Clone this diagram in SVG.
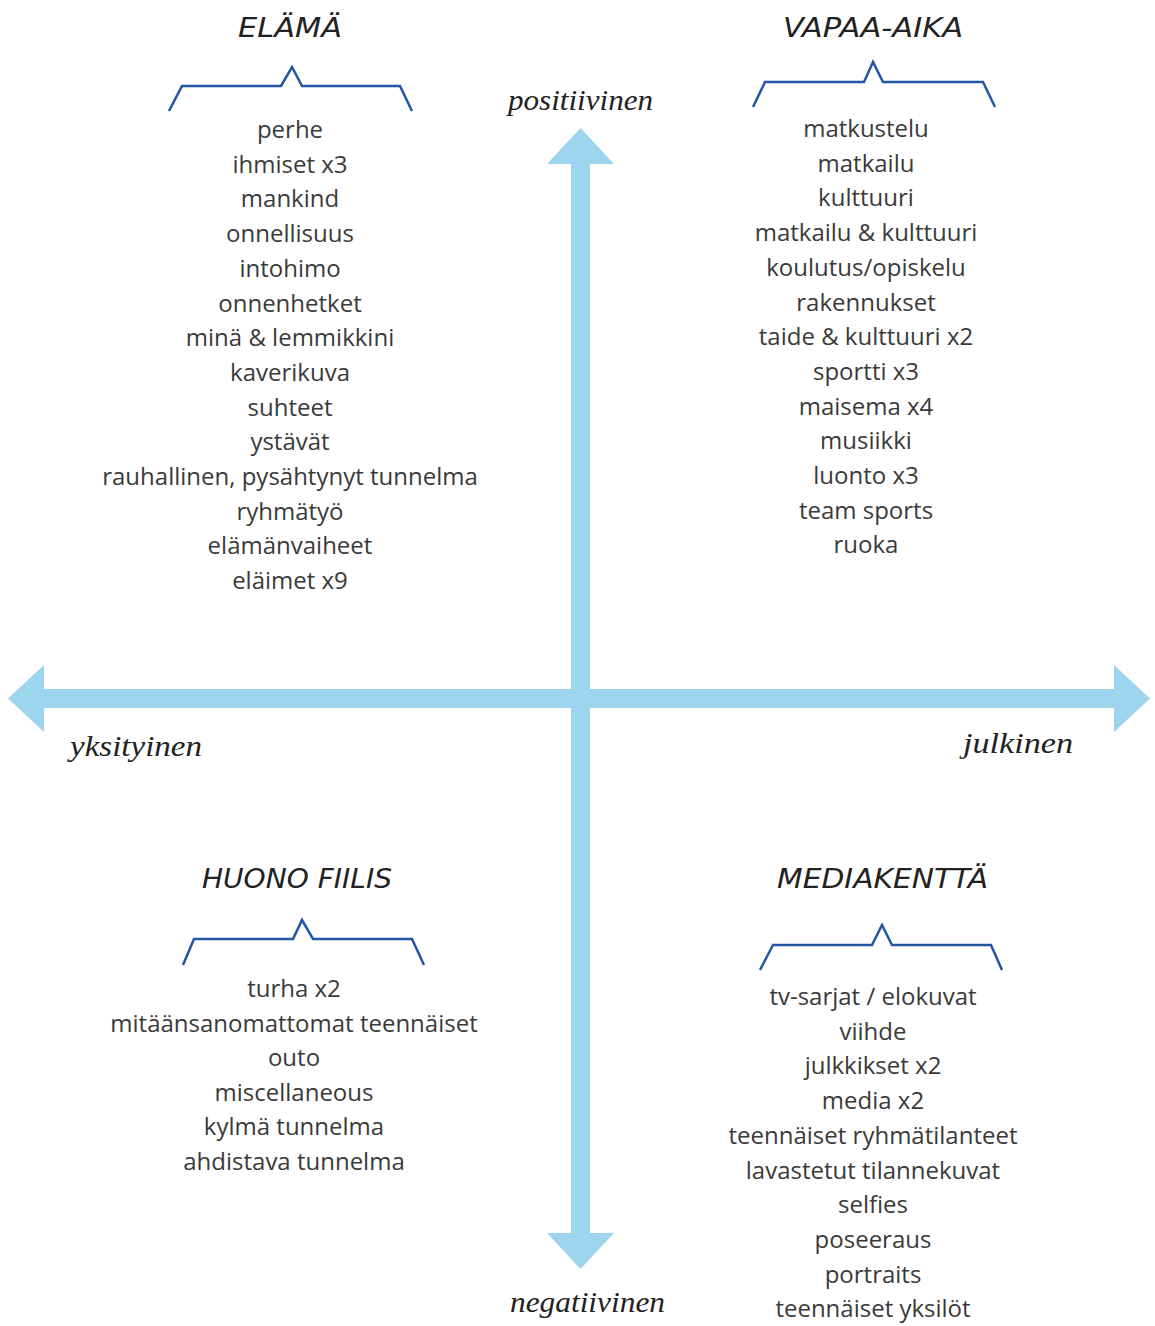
<svg xmlns="http://www.w3.org/2000/svg" width="1155" height="1326" viewBox="0 0 1155 1326">
<style>
.title{font-family:"DejaVu Sans","Liberation Sans",sans-serif;font-style:italic;font-size:27px;fill:#222;text-anchor:start}
.axis{font-family:"Liberation Serif","DejaVu Serif",serif;font-style:italic;font-size:30px;fill:#222}
.item{font-family:"Open Sans","Lato",sans-serif;font-weight:400;font-size:24px;fill:#3a3a3a;text-anchor:middle}
.brace{fill:none;stroke:#2456a6;stroke-width:2.5;stroke-linejoin:miter}
.arrow{fill:#9dd5ee}
</style>
<rect width="1155" height="1326" fill="#fff"/>
<g id="connectors">
<path class="arrow" d="M571,164 L547,164 L580.5,128 L614,164 L590,164 L590,1233 L614,1233 L580.5,1269 L547,1233 L571,1233 Z"/>
<path class="arrow" d="M44,689 L44,665 L8,698.5 L44,732 L44,708 L1114,708 L1114,732 L1150,698.5 L1114,665 L1114,689 Z"/>
</g>
<g id="axis-positiivinen"><text class="axis" x="508" y="110" textLength="145" lengthAdjust="spacingAndGlyphs">positiivinen</text></g>
<g id="axis-negatiivinen"><text class="axis" x="510" y="1312" textLength="155" lengthAdjust="spacingAndGlyphs">negatiivinen</text></g>
<g id="axis-yksityinen"><text class="axis" x="70" y="756" textLength="132" lengthAdjust="spacingAndGlyphs">yksityinen</text></g>
<g id="axis-julkinen"><text class="axis" x="963" y="753" textLength="110" lengthAdjust="spacingAndGlyphs">julkinen</text></g>
<g id="elama">
<text class="title" x="238" y="37" textLength="104" lengthAdjust="spacingAndGlyphs">ELÄMÄ</text>
<path class="brace" d="M169,111 L182,86 L281,86 L292,67 L302,86 L400,86 L412,111"/>
<text class="item" x="290" y="138">perhe</text>
<text class="item" x="290" y="172.7">ihmiset x3</text>
<text class="item" x="290" y="207.4">mankind</text>
<text class="item" x="290" y="242.1">onnellisuus</text>
<text class="item" x="290" y="276.8">intohimo</text>
<text class="item" x="290" y="311.5">onnenhetket</text>
<text class="item" x="290" y="346.2">minä &amp; lemmikkini</text>
<text class="item" x="290" y="380.9">kaverikuva</text>
<text class="item" x="290" y="415.6">suhteet</text>
<text class="item" x="290" y="450.3">ystävät</text>
<text class="item" x="290" y="485">rauhallinen, pysähtynyt tunnelma</text>
<text class="item" x="290" y="519.7">ryhmätyö</text>
<text class="item" x="290" y="554.4">elämänvaiheet</text>
<text class="item" x="290" y="589.1">eläimet x9</text>
</g>
<g id="vapaa-aika">
<text class="title" x="783" y="37" textLength="180" lengthAdjust="spacingAndGlyphs">VAPAA-AIKA</text>
<path class="brace" d="M753,107 L765,82 L864,82 L873,62 L883,82 L983,82 L995,107"/>
<text class="item" x="866" y="137">matkustelu</text>
<text class="item" x="866" y="171.7">matkailu</text>
<text class="item" x="866" y="206.4">kulttuuri</text>
<text class="item" x="866" y="241.1">matkailu &amp; kulttuuri</text>
<text class="item" x="866" y="275.8">koulutus/opiskelu</text>
<text class="item" x="866" y="310.5">rakennukset</text>
<text class="item" x="866" y="345.2">taide &amp; kulttuuri x2</text>
<text class="item" x="866" y="379.9">sportti x3</text>
<text class="item" x="866" y="414.6">maisema x4</text>
<text class="item" x="866" y="449.3">musiikki</text>
<text class="item" x="866" y="484">luonto x3</text>
<text class="item" x="866" y="518.7">team sports</text>
<text class="item" x="866" y="553.4">ruoka</text>
</g>
<g id="huono-fiilis">
<text class="title" x="202" y="888" textLength="190" lengthAdjust="spacingAndGlyphs">HUONO FIILIS</text>
<path class="brace" d="M183,965 L194,939 L293,939 L302,920 L313,939 L412,939 L424,965"/>
<text class="item" x="294" y="997">turha x2</text>
<text class="item" x="294" y="1031.6">mitäänsanomattomat teennäiset</text>
<text class="item" x="294" y="1066.2">outo</text>
<text class="item" x="294" y="1100.8">miscellaneous</text>
<text class="item" x="294" y="1135.4">kylmä tunnelma</text>
<text class="item" x="294" y="1170">ahdistava tunnelma</text>
</g>
<g id="mediakentta">
<text class="title" x="777" y="888" textLength="211" lengthAdjust="spacingAndGlyphs">MEDIAKENTTÄ</text>
<path class="brace" d="M760,970 L773,945 L872,945 L882,925 L892,945 L991,945 L1002,970"/>
<text class="item" x="873" y="1005">tv-sarjat / elokuvat</text>
<text class="item" x="873" y="1039.7">viihde</text>
<text class="item" x="873" y="1074.4">julkkikset x2</text>
<text class="item" x="873" y="1109.1">media x2</text>
<text class="item" x="873" y="1143.8">teennäiset ryhmätilanteet</text>
<text class="item" x="873" y="1178.5">lavastetut tilannekuvat</text>
<text class="item" x="873" y="1213.2">selfies</text>
<text class="item" x="873" y="1247.9">poseeraus</text>
<text class="item" x="873" y="1282.6">portraits</text>
<text class="item" x="873" y="1317.3">teennäiset yksilöt</text>
</g>
</svg>
